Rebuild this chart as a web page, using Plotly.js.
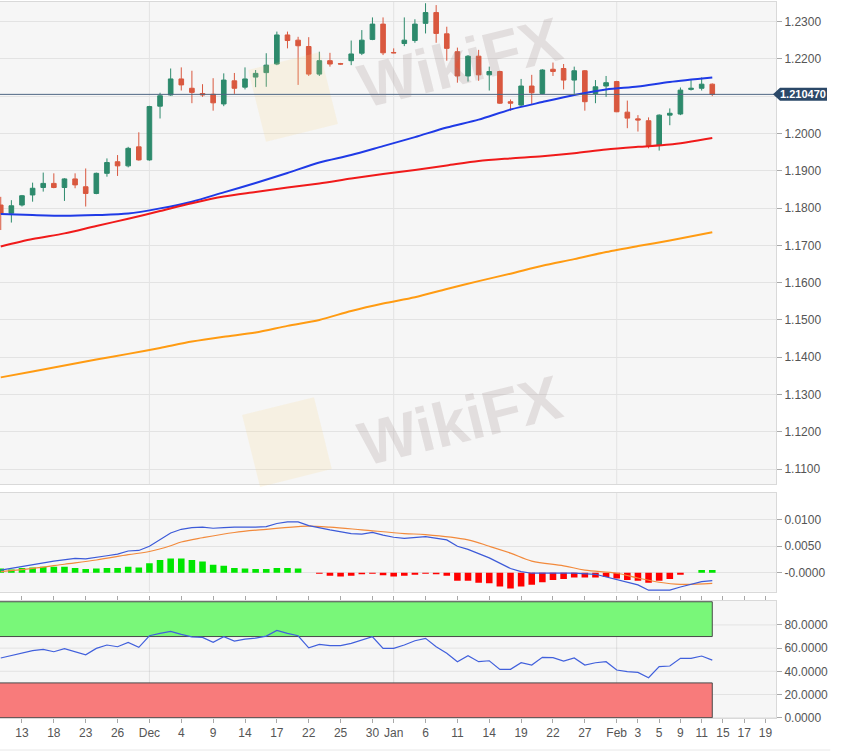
<!DOCTYPE html>
<html>
<head>
<meta charset="utf-8">
<script src="https://cdn.plot.ly/plotly-3.0.1.min.js"></script>
<style>
html, body { margin: 0; padding: 0; background: #ffffff; }
#chart { width: 862px; height: 753px; }
</style>
</head>
<body>
<div id="chart"></div>
<script>
///////////////////////////////////////////////////////////////////////////////
// EUR/USD daily candles, Nov 11 2020 -> Feb 12 2021
const dates = [
  '2020-11-11','2020-11-12','2020-11-13','2020-11-16','2020-11-17','2020-11-18','2020-11-19',
  '2020-11-20','2020-11-23','2020-11-24','2020-11-25','2020-11-26','2020-11-27','2020-11-30',
  '2020-12-01','2020-12-02','2020-12-03','2020-12-04','2020-12-07','2020-12-08','2020-12-09',
  '2020-12-10','2020-12-11','2020-12-14','2020-12-15','2020-12-16','2020-12-17','2020-12-18',
  '2020-12-21','2020-12-22','2020-12-23','2020-12-24','2020-12-25','2020-12-28','2020-12-29',
  '2020-12-30','2020-12-31','2021-01-01','2021-01-04','2021-01-05','2021-01-06','2021-01-07',
  '2021-01-08','2021-01-11','2021-01-12','2021-01-13','2021-01-14','2021-01-15','2021-01-18',
  '2021-01-19','2021-01-20','2021-01-21','2021-01-22','2021-01-25','2021-01-26','2021-01-27',
  '2021-01-28','2021-01-29','2021-02-01','2021-02-02','2021-02-03','2021-02-04','2021-02-05',
  '2021-02-08','2021-02-09','2021-02-10','2021-02-11','2021-02-12'
];
const open = [
  1.1808,1.1786,1.1808,1.1835,1.1855,1.1866,1.1855,1.1878,1.1857,1.1839,1.1893,1.1924,1.1913,1.1964,
  1.1929,1.2073,1.2103,1.2146,1.2121,1.2107,1.2105,1.2079,1.2141,1.2124,1.2151,1.2163,1.2186,1.2264,
  1.2250,1.2233,1.2159,1.2195,1.2187,1.2195,1.2215,1.2252,1.2293,
  1.2217,1.2241,1.2249,1.2295,1.2324,1.2267,1.2219,1.2154,1.2207,1.2157,1.2166,1.2085,1.2076,1.2127,
  1.2107,1.2172,1.2174,1.2143,1.2168,1.2107,1.2127,
  1.2139,1.2057,1.2039,1.2034,1.1969,1.2049,1.2052,1.2118,1.2121,1.2132
];
const high = [
  1.1830,1.1821,1.1835,1.1868,1.1895,1.1893,1.1880,1.1893,1.1906,1.1895,1.1933,1.1942,1.1964,1.2003,
  1.2074,1.2109,1.2174,1.2177,1.2168,1.2132,1.2148,1.2161,1.2162,1.2177,1.2170,1.2215,1.2273,1.2273,
  1.2259,1.2258,1.2219,1.2216,1.2189,1.2249,1.2277,1.2311,1.2311,
  1.2228,1.2311,1.2306,1.2349,1.2344,1.2286,1.2230,1.2210,1.2224,1.2179,1.2168,1.2091,1.2146,1.2157,
  1.2172,1.2190,1.2186,1.2179,1.2170,1.2143,1.2154,
  1.2141,1.2088,1.2049,1.2043,1.2051,1.2067,1.2123,1.2143,1.2150,1.2134
];
const low = [
  1.1741,1.1761,1.1804,1.1817,1.1844,1.1853,1.1819,1.1853,1.1804,1.1837,1.1884,1.1886,1.1909,1.1927,
  1.1927,1.2040,1.2101,1.2115,1.2081,1.2098,1.2061,1.2073,1.2106,1.2118,1.2124,1.2125,1.2183,1.2228,
  1.2130,1.2154,1.2154,1.2179,1.2184,1.2183,1.2210,1.2250,1.2210,
  1.2215,1.2234,1.2243,1.2268,1.2243,1.2195,1.2136,1.2139,1.2141,1.2115,1.2079,1.2061,1.2072,1.2079,
  1.2105,1.2154,1.2118,1.2106,1.2061,1.2081,1.2098,
  1.2057,1.2014,1.2005,1.1960,1.1954,1.2022,1.2049,1.2115,1.2115,1.2100
];
const close = [
  1.1786,1.1806,1.1833,1.1853,1.1866,1.1855,1.1878,1.1862,1.1839,1.1893,1.1922,1.1913,1.1960,1.1929,
  1.2072,1.2101,1.2146,1.2130,1.2110,1.2103,1.2082,1.2143,1.2121,1.2146,1.2161,1.2183,1.2264,1.2249,
  1.2235,1.2159,1.2195,1.2186,1.2186,1.2213,1.2250,1.2293,1.2216,
  1.2216,1.2250,1.2293,1.2324,1.2268,1.2228,1.2154,1.2207,1.2157,1.2166,1.2081,1.2081,1.2127,1.2109,
  1.2170,1.2166,1.2143,1.2168,1.2085,1.2125,1.2136,
  1.2058,1.2041,1.2036,1.1966,1.2049,1.2054,1.2116,1.2121,1.2132,1.21047
];
const last_price = 1.21047;

// moving averages, read at every third trading day
const ma_dates = [
  '2020-11-11','2020-11-16','2020-11-19','2020-11-24','2020-11-27','2020-12-02','2020-12-07',
  '2020-12-10','2020-12-15','2020-12-18','2020-12-23','2020-12-28','2020-12-31','2021-01-05',
  '2021-01-08','2021-01-13','2021-01-18','2021-01-21','2021-01-26','2021-01-29','2021-02-03',
  '2021-02-08','2021-02-12'
];
const ma_blue = [
  1.1784,1.1781,1.1779,1.1781,1.1785,1.1799,1.1817,1.1842,1.1867,1.1894,1.1922,1.1942,
  1.1966,1.1990,1.2016,1.2037,1.2064,1.2084,1.2103,1.2118,1.2126,1.2138,1.2150
];
const ma_red = [
  1.1697,1.1717,1.1732,1.1752,1.1771,1.1792,1.1813,1.1831,1.1843,1.1855,1.1866,1.1879,
  1.1891,1.1902,1.1914,1.1926,1.1933,1.1939,1.1947,1.1957,1.1964,1.1970,1.1988
];
const ma_orange = [
  1.1346,1.1362,1.1378,1.1394,1.1409,1.1425,1.1442,1.1455,1.1466,1.1484,1.1500,1.1524,
  1.1544,1.1561,1.1583,1.1604,1.1624,1.1645,1.1663,1.1682,1.1698,1.1713,1.1735
];

// MACD panel
const macd_hist = [
  0.0008,0.0006,0.0009,0.0010,0.0011,0.0011,0.0011,0.0009,0.0007,0.0008,0.0009,0.0009,0.0011,0.0010,
  0.0018,0.0024,0.0027,0.0027,0.0024,0.0021,0.0015,0.0013,0.0009,0.0008,0.0007,0.0007,0.0009,0.0009,
  0.0008,0.0000,-0.0002,-0.0006,-0.0007,-0.0006,-0.0003,-0.0002,-0.0005,
  -0.0007,-0.0006,-0.0004,-0.0002,-0.0003,-0.0006,-0.0015,-0.0015,-0.0019,-0.0020,-0.0026,-0.0030,
  -0.0026,-0.0023,-0.0018,-0.0014,-0.0012,-0.0009,-0.0009,-0.0009,-0.0008,
  -0.0011,-0.0014,-0.0015,-0.0019,-0.0015,-0.0012,-0.0004,0.0000,0.0005,0.0005
];
const macd_dates = [
  '2020-11-11','2020-11-16','2020-11-18','2020-11-20','2020-11-23','2020-11-25','2020-11-26',
  '2020-11-27','2020-11-30','2020-12-01','2020-12-02','2020-12-03','2020-12-04','2020-12-07',
  '2020-12-08','2020-12-09','2020-12-10','2020-12-11','2020-12-15','2020-12-16','2020-12-17',
  '2020-12-18','2020-12-21','2020-12-22','2020-12-24','2020-12-28','2020-12-29','2020-12-30',
  '2020-12-31','2021-01-01','2021-01-04','2021-01-06','2021-01-08','2021-01-11','2021-01-12',
  '2021-01-14','2021-01-18','2021-01-19','2021-01-20','2021-01-26','2021-01-28','2021-02-01',
  '2021-02-03','2021-02-04','2021-02-08','2021-02-09','2021-02-11','2021-02-12'
];
const macd_line = [
  0.0005,0.0015,0.0022,0.0027,0.0026,0.0032,0.0035,0.0041,0.0042,0.0050,0.0063,0.0075,0.0082,0.0085,
  0.0086,0.0084,0.0085,0.0086,0.0086,0.0087,0.0093,0.0096,0.0096,0.0089,0.0081,0.0074,0.0073,0.0076,
  0.0071,0.0067,0.0065,0.0068,0.0062,0.0050,0.0044,0.0028,0.0008,0.0002,-0.0001,-0.0001,-0.0003,
  -0.0013,-0.0023,-0.0033,-0.0033,-0.0027,-0.0017,-0.0015
];
const signal_dates = [
  '2020-11-11','2020-11-16','2020-11-19','2020-11-24','2020-11-27','2020-12-01','2020-12-03',
  '2020-12-04','2020-12-08','2020-12-11','2020-12-16','2020-12-21','2020-12-22','2020-12-24',
  '2020-12-29','2021-01-04','2021-01-06','2021-01-12','2021-01-14','2021-01-18','2021-01-20',
  '2021-01-25','2021-01-27','2021-02-01','2021-02-03','2021-02-05','2021-02-09','2021-02-12'
];
const signal_line = [
  0.0002,0.0008,0.0016,0.0024,0.0034,0.0040,0.0051,0.0058,0.0066,0.0076,0.0082,0.0087,0.0088,0.0086,
  0.0081,0.0074,0.0072,0.0062,0.0050,0.0037,0.0022,0.0013,0.0005,-0.0001,-0.0010,-0.0018,-0.0022,-0.0020
];

// RSI panel, one value per candle
const rsi = [
  51.5,53.5,56.0,57.8,59.0,56.9,59.5,56.9,54.3,59.8,62.7,61.2,65.0,60.7,
  70.7,72.8,74.5,71.9,69.8,69.3,65.0,69.8,66.1,67.8,68.7,70.4,75.3,72.8,70.7,60.3,63.3,62.1,62.1,
  64.1,67.0,69.8,59.8,
  59.8,62.7,66.4,68.4,61.2,55.5,48.3,53.4,48.3,49.1,41.7,41.7,47.4,45.4,52.1,51.8,48.9,51.6,45.4,
  47.4,48.3,
  41.1,39.7,39.1,34.5,44.0,44.6,51.2,51.2,53.2,49.7
];
const rsi_upper = [70, 100];
const rsi_lower = [0, 30];

// x axis ticks
const tick_dates = [
  '2020-11-13','2020-11-18','2020-11-23','2020-11-26','2020-12-01','2020-12-04','2020-12-09',
  '2020-12-14','2020-12-17','2020-12-22','2020-12-25','2020-12-30','2021-01-01','2021-01-06',
  '2021-01-11','2021-01-14','2021-01-19','2021-01-22','2021-01-27','2021-02-01','2021-02-03',
  '2021-02-05','2021-02-09','2021-02-11','2021-02-15','2021-02-17','2021-02-19'
];
const tick_labels = [
  '13','18','23','26','Dec','4','9','14','17','22','25','30','Jan','6','11','14','19','22','27',
  'Feb','3','5','9','11','15','17','19'
];
const month_starts = ['2020-12-01','2021-01-01','2021-02-01'];
const x_end_date = '2021-02-22';

// 1.2100 is hidden behind the last-price tag in the original
const price_ticks = [1.11,1.12,1.13,1.14,1.15,1.16,1.17,1.18,1.19,1.20,1.21,1.22,1.23];
const price_tick_labels = ['1.1100','1.1200','1.1300','1.1400','1.1500','1.1600','1.1700',
  '1.1800','1.1900','1.2000','','1.2200','1.2300'];
const macd_ticks = [0, 0.005, 0.01];
const macd_tick_labels = ['-0.0000', '0.0050', '0.0100'];
const rsi_ticks = [0, 20, 40, 60, 80];


///////////////////////////////////////////////////////////////////////////////
// trading-day position of a date (weekends skipped), first candle = 0
function day_index(date_str)
{
    let t0 = Date.parse(dates[0] + 'T00:00:00Z');
    let t1 = Date.parse(date_str + 'T00:00:00Z');
    let n = 0;
    for (let t = t0; t < t1; t += 86400000) {
        let d = new Date(t + 86400000).getUTCDay();
        if (d !== 0 && d !== 6) n++;
    }
    return n;
}

// pale rotated square for the watermark logo, in paper units
function logo_path(cx, cy, half, angle)
{
    let a = angle * Math.PI / 180;
    let pts = [[-1,-1],[1,-1],[1,1],[-1,1]].map(([u, v]) => {
        let x = cx + half * (u * Math.cos(a) - v * Math.sin(a));
        let y = cy + half * (u * Math.sin(a) + v * Math.cos(a));
        return (x / 776).toFixed(4) + ',' + ((718 - y) / 716).toFixed(4);
    });
    return 'M' + pts.join('L') + 'Z';
}


///////////////////////////////////////////////////////////////////////////////
function graph_create(container)
{
    let xs = dates.map(day_index);
    let x_last = xs[xs.length - 1];
    let x_range = [-0.07, day_index(x_end_date)];

    let font_family = 'Liberation Sans, Arial, sans-serif';
    let grid_color = '#e3e3e3';
    let line_color = '#d9d9d9';

    let plot_traces = [];

    plot_traces.push({
        type: 'candlestick',
        x: xs, open: open, high: high, low: low, close: close,
        xaxis: 'x', yaxis: 'y',
        increasing: {line: {color: '#2d8a6c', width: 1}, fillcolor: '#2d8a6c'},
        decreasing: {line: {color: '#d9583f', width: 1}, fillcolor: '#d9583f'},
        whiskerwidth: 0,
        hoverinfo: 'skip',
    });

    let ma_x = ma_dates.map(day_index);
    let ma_list = [[ma_blue, '#1f3ae6'], [ma_red, '#f01a1a'], [ma_orange, '#ff9b12']];
    for (let [vals, color] of ma_list) {
        plot_traces.push({
            type: 'scatter', mode: 'lines',
            x: ma_x, y: vals, yaxis: 'y',
            line: {color: color, width: 2, shape: 'spline', smoothing: 0.8},
            hoverinfo: 'skip',
        });
    }

    plot_traces.push({
        type: 'bar',
        x: xs, y: macd_hist, yaxis: 'y2',
        width: 0.62,
        marker: {color: macd_hist.map(v => v >= 0 ? '#00e600' : '#ff0000')},
        hoverinfo: 'skip',
    });
    plot_traces.push({
        type: 'scatter', mode: 'lines',
        x: signal_dates.map(day_index), y: signal_line, yaxis: 'y2',
        line: {color: '#f28a3c', width: 1.2, shape: 'spline'},
        hoverinfo: 'skip',
    });
    plot_traces.push({
        type: 'scatter', mode: 'lines',
        x: macd_dates.map(day_index), y: macd_line, yaxis: 'y2',
        line: {color: '#3c5ad8', width: 1.2},
        hoverinfo: 'skip',
    });

    plot_traces.push({
        type: 'scatter', mode: 'lines',
        x: xs, y: rsi, yaxis: 'y3',
        line: {color: '#4160dc', width: 1.2},
        hoverinfo: 'skip',
    });

    let shapes = [];
    // RSI grid drawn by hand so the zones can cover it
    for (let v of rsi_ticks) {
        shapes.push({type: 'line', xref: 'x domain', yref: 'y3', layer: 'below',
            x0: 0, x1: 1, y0: v, y1: v, line: {color: grid_color, width: 1}});
    }
    // RSI zones
    shapes.push({type: 'rect', xref: 'x', yref: 'y3', layer: 'below',
        x0: x_range[0] - 1, x1: x_last, y0: rsi_upper[0], y1: rsi_upper[1],
        fillcolor: '#79f779', line: {color: '#4a4a4a', width: 1}});
    shapes.push({type: 'rect', xref: 'x', yref: 'y3', layer: 'below',
        x0: x_range[0] - 1, x1: x_last, y0: rsi_lower[0], y1: rsi_lower[1],
        fillcolor: '#f87b7b', line: {color: '#4a4a4a', width: 1}});
    // month grid lines
    for (let m of month_starts) {
        for (let yr of ['y', 'y2', 'y3']) {
            shapes.push({type: 'line', xref: 'x', yref: yr + ' domain', layer: 'below',
                x0: day_index(m), x1: day_index(m), y0: 0, y1: 1,
                line: {color: yr === 'y3' ? 'rgba(120,120,120,0.18)' : grid_color, width: 1}});
        }
    }
    // watermark logos
    shapes.push({type: 'path', xref: 'paper', yref: 'paper', layer: 'above',
        path: logo_path(293, 97, 37, -14), fillcolor: 'rgba(250,218,140,0.18)', line: {width: 0}});
    shapes.push({type: 'path', xref: 'paper', yref: 'paper', layer: 'above',
        path: logo_path(287, 442, 37, -14), fillcolor: 'rgba(250,218,140,0.18)', line: {width: 0}});
    // last price line and tag
    shapes.push({type: 'line', xref: 'paper', yref: 'y', layer: 'above',
        x0: 0, x1: 1, y0: last_price, y1: last_price,
        line: {color: '#4e6683', width: 1}});
    shapes.push({type: 'path', xref: 'paper', yref: 'y', layer: 'above',
        xsizemode: 'pixel', xanchor: 1, ysizemode: 'pixel', yanchor: last_price,
        path: 'M -3,0 L 4,6.5 L 51,6.5 L 51,-6.5 L 4,-6.5 Z',
        fillcolor: '#2b4868', line: {width: 0}});
    // bottom rule
    shapes.push({type: 'line', xref: 'paper', yref: 'paper', layer: 'above',
        x0: 0, x1: 1.07, y0: -0.0447, y1: -0.0447,
        line: {color: '#e8e8e8', width: 1}});

    let annotations = [
        {xref: 'paper', yref: 'y', x: 1, y: last_price, xshift: 27, xanchor: 'center',
         showarrow: false, text: '<b>' + last_price.toFixed(6) + '</b>',
         font: {family: font_family, size: 11, color: '#ffffff'}},
        {xref: 'paper', yref: 'paper', x: 0.593, y: 0.915, xanchor: 'center', yanchor: 'middle',
         showarrow: false, textangle: -14,
         text: '<b>WikiFX</b>', font: {family: font_family, size: 62, color: 'rgba(150,130,130,0.2)'}},
        {xref: 'paper', yref: 'paper', x: 0.593, y: 0.415, xanchor: 'center', yanchor: 'middle',
         showarrow: false, textangle: -14,
         text: '<b>WikiFX</b>', font: {family: font_family, size: 62, color: 'rgba(150,130,130,0.2)'}},
    ];

    let y_common = {
        side: 'right', showline: true, mirror: true, linecolor: line_color,
        showgrid: true, gridcolor: grid_color, zeroline: false,
        ticks: 'outside', ticklen: 5, tickcolor: '#a8a8a8',
        tickfont: {family: font_family, size: 12, color: '#555555'},
        fixedrange: true,
    };

    let plot_layout = {
        width: 862, height: 753,
        margin: {l: 0, r: 86, t: 2, b: 35},
        paper_bgcolor: '#ffffff',
        plot_bgcolor: '#f6f6f6',
        showlegend: false,
        boxgap: 0.38,
        font: {family: font_family},
        xaxis: {
            domain: [0, 1], anchor: 'y3',
            range: x_range,
            tickvals: tick_dates.map(day_index), ticktext: tick_labels,
            ticks: 'outside', ticklen: 4, tickcolor: '#a8a8a8',
            tickfont: {family: font_family, size: 12, color: '#555555'},
            showgrid: false, zeroline: false,
            showline: true, mirror: 'all', linecolor: line_color,
            rangeslider: {visible: false},
            fixedrange: true,
        },
        yaxis: Object.assign({}, y_common, {
            domain: [0.3268, 1], range: [1.10601, 1.23523],
            tickvals: price_ticks, ticktext: price_tick_labels,
        }),
        yaxis2: Object.assign({}, y_common, {
            domain: [0.1764, 0.3147], range: [-0.00359, 0.01512],
            tickvals: macd_ticks, ticktext: macd_tick_labels,
        }),
        yaxis3: Object.assign({}, y_common, {
            domain: [0, 0.1638], range: [-0.26, 100.9],
            tickvals: rsi_ticks, tickformat: '.4f', showgrid: false,
        }),
        shapes: shapes,
        annotations: annotations,
    };

    let plot_config = {staticPlot: true};

    let plot_container = document.getElementById(container);
    Plotly.newPlot(plot_container, plot_traces, plot_layout, plot_config);
    return plot_container;
}

graph_create('chart');
</script>
</body>
</html>
